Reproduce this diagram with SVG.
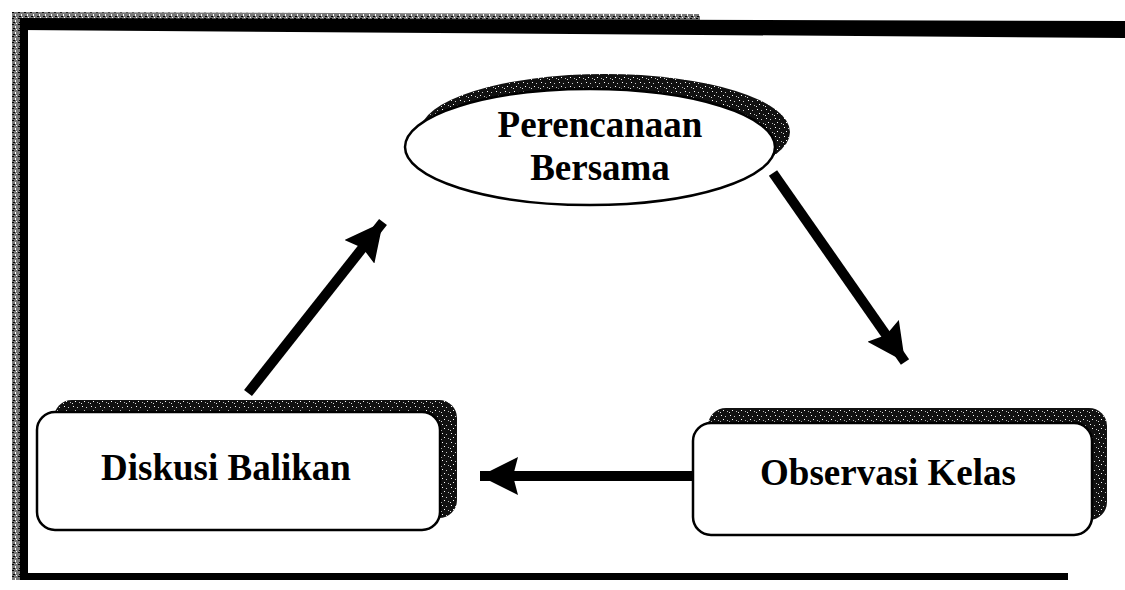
<svg xmlns="http://www.w3.org/2000/svg" width="1125" height="590" viewBox="0 0 1125 590">
  <style>
    .label { font-family: "Liberation Serif", "Times New Roman", serif; font-weight: bold; font-size: 37px; fill: #000; text-anchor: middle; }
    .node-face { fill: #fff; stroke: #000; stroke-width: 2.5; }
    .shadow { fill: url(#grain); }
    .frame { fill: #000; }
    .link { stroke: #000; stroke-width: 10; fill: none; }
  </style>
  <defs>
    <!-- speckled dark tone used for the drop shadows -->
    <pattern id="grain" width="9" height="9" patternUnits="userSpaceOnUse">
      <rect width="9" height="9" fill="#111"/>
      <rect x="1" y="1" width="1" height="1" fill="#fff"/>
      <rect x="5" y="2" width="1" height="1" fill="#ccc"/>
      <rect x="3" y="5" width="1" height="1" fill="#fff"/>
      <rect x="7" y="6" width="1" height="1" fill="#bbb"/>
      <rect x="0" y="7" width="1" height="1" fill="#ddd"/>
    </pattern>
    <!-- lighter speckle for the frame edge -->
    <pattern id="grainLight" width="6" height="6" patternUnits="userSpaceOnUse">
      <rect width="6" height="6" fill="#777"/>
      <rect x="0" y="0" width="2" height="1" fill="#000"/>
      <rect x="3" y="2" width="1" height="2" fill="#fff"/>
      <rect x="1" y="4" width="2" height="1" fill="#000"/>
      <rect x="4" y="5" width="1" height="1" fill="#fff"/>
    </pattern>
    <marker id="head" markerUnits="userSpaceOnUse" markerWidth="42" markerHeight="38" refX="38" refY="19" orient="auto">
      <polygon points="0,0 38,19 0,38 5,19" fill="#000"/>
    </marker>
  </defs>

  <rect width="1125" height="590" fill="#fff"/>

  <!-- outer frame (right side runs off the sheet) -->
  <g id="frame">
    <rect x="12" y="12" width="9" height="568" fill="url(#grainLight)"/>
    <polygon points="12,12 700,14 700,20 12,19" fill="url(#grainLight)"/>
    <polygon class="frame" points="20,18 1125,21 1125,38 20,30"/>
    <rect class="frame" x="20" y="18" width="8" height="562"/>
    <rect class="frame" x="20" y="573" width="1048" height="7"/>
  </g>

  <!-- connectors -->
  <g id="connectors">
    <line class="link" x1="773" y1="173" x2="905" y2="362" marker-end="url(#head)"/>
    <line class="link" x1="692" y1="476" x2="480" y2="476" marker-end="url(#head)"/>
    <line class="link" x1="248" y1="393" x2="383" y2="222" marker-end="url(#head)"/>
  </g>

  <g id="node-perencanaan">
    <ellipse class="shadow" cx="605" cy="132" rx="185" ry="58"/>
    <ellipse class="node-face" cx="590" cy="147" rx="185" ry="58"/>
    <text class="label" x="600" y="137">Perencanaan</text>
    <text class="label" x="600" y="180">Bersama</text>
  </g>

  <g id="node-diskusi">
    <rect class="shadow" x="54" y="400" width="403" height="118" rx="18"/>
    <rect class="node-face" x="37" y="412" width="403" height="118" rx="18"/>
    <text class="label" x="226" y="480">Diskusi Balikan</text>
  </g>

  <g id="node-observasi">
    <rect class="shadow" x="708" y="408" width="399" height="112" rx="18"/>
    <rect class="node-face" x="693" y="423" width="399" height="112" rx="18"/>
    <text class="label" x="888" y="485">Observasi Kelas</text>
  </g>
</svg>
